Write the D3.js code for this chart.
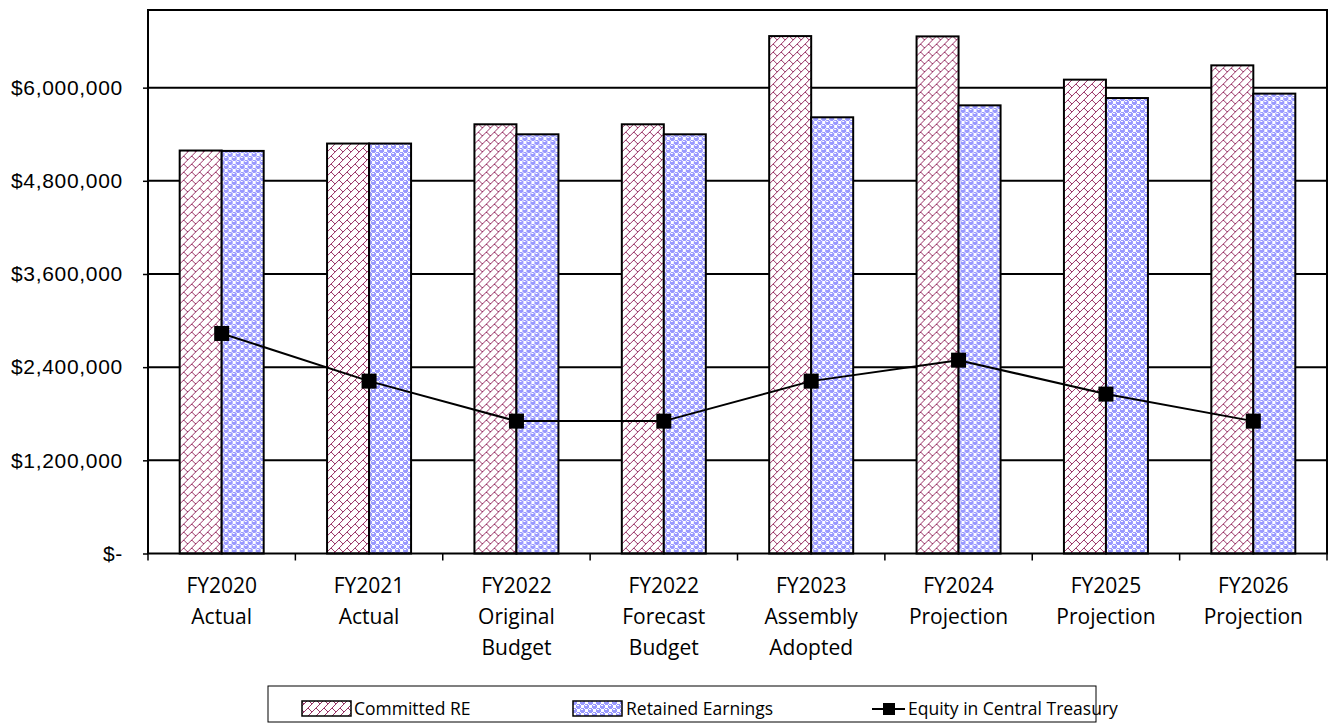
<!DOCTYPE html>
<html>
<head>
<meta charset="utf-8">
<script src="https://cdn.jsdelivr.net/npm/d3@7"></script>
<style>
  html, body { margin: 0; padding: 0; background: #fff; }
  svg { display: block; }
</style>
</head>
<body>
<svg id="chart" width="1330" height="725"></svg>
<script>
const categories = ["FY2020\nActual", "FY2021\nActual", "FY2022\nOriginal\nBudget", "FY2022\nForecast\nBudget", "FY2023\nAssembly\nAdopted", "FY2024\nProjection", "FY2025\nProjection", "FY2026\nProjection"];
const committedRE = [5190000, 5280000, 5528000, 5528000, 6664000, 6660000, 6103000, 6287000];
const retainedEarnings = [5185000, 5280000, 5399000, 5399000, 5618000, 5772000, 5866000, 5923000];
const equityCentralTreasury = [2834000, 2220000, 1705000, 1705000, 2220000, 2490000, 2053000, 1705000];
const yTicks = [0, 1200000, 2400000, 3600000, 4800000, 6000000];
const yMax = 7000000;
const seriesNames = ["Committed RE", "Retained Earnings", "Equity in Central Treasury"];

(function () {
const svg = d3.select("#chart");
const pL = 148, pR = 1327, pT = 10, pB = 553.5;

// patterns
const defs = svg.append("defs");
const brick = defs.append("pattern").attr("id", "brick").attr("patternUnits", "userSpaceOnUse")
  .attr("width", 8).attr("height", 8);
brick.append("rect").attr("width", 8).attr("height", 8).attr("fill", "#fff");
const brickBits = [
  "00000001",
  "00000010",
  "00000100",
  "00001000",
  "00011000",
  "00100100",
  "01000010",
  "10000001"
];
brickBits.forEach((row, r) => row.split("").forEach((b, c) => {
  if (b === "1") brick.append("rect").attr("x", c).attr("y", r).attr("width", 1).attr("height", 1).attr("fill", "#993366");
}));
const sphere = defs.append("pattern").attr("id", "sphere").attr("patternUnits", "userSpaceOnUse")
  .attr("width", 8).attr("height", 8);
sphere.append("rect").attr("width", 8).attr("height", 8).attr("fill", "#fff");
const sphereBits = [
  "0BBB0BBB",
  "BWWBB000",
  "BBBBB000",
  "BBBBB000",
  "0BBB0BBB",
  "B000BWWB",
  "B000BBBB",
  "B000BBBB"
];
sphereBits.forEach((row, r) => row.split("").forEach((b, c) => {
  if (b === "B") sphere.append("rect").attr("x", c).attr("y", r).attr("width", 1).attr("height", 1).attr("fill", "#9999FF");
}));

const x0 = d3.scaleBand().domain(categories).range([pL, pR]).paddingInner(0.43).paddingOuter(0.215);
const x1 = d3.scaleBand().domain(["c", "r"]).range([0, x0.bandwidth()]);
const y = d3.scaleLinear().domain([0, yMax]).range([pB, pT]);
const step = x0.step();

// gridlines
svg.append("g").selectAll("line").data(yTicks.filter(t => t > 0)).join("line")
  .attr("x1", pL).attr("x2", pR).attr("y1", d => y(d)).attr("y2", d => y(d))
  .attr("stroke", "#000").attr("stroke-width", 2);

// y axis
const yAxis = d3.axisLeft(y).tickValues(yTicks).tickSize(5).tickPadding(20)
  .tickFormat(d => d === 0 ? "$-" : "$" + d3.format(",")(d));
const ya = svg.append("g").attr("transform", `translate(${pL},0)`).call(yAxis);
ya.select(".domain").remove();
ya.selectAll(".tick line").attr("stroke", "#000").attr("stroke-width", 1.5);
ya.selectAll(".tick text").attr("font-family", "Liberation Sans, Arial, sans-serif").attr("font-size", 21)
  .attr("letter-spacing", 0.7).attr("fill", "#000");

// bars
const groups = svg.append("g").selectAll("g").data(categories).join("g")
  .attr("transform", d => `translate(${x0(d)},0)`);
groups.append("rect").attr("x", x1("c")).attr("width", x1.bandwidth())
  .attr("y", (d, i) => y(committedRE[i])).attr("height", (d, i) => pB - y(committedRE[i]))
  .attr("fill", "url(#brick)").attr("stroke", "#000").attr("stroke-width", 2);
groups.append("rect").attr("x", x1("r")).attr("width", x1.bandwidth())
  .attr("y", (d, i) => y(retainedEarnings[i])).attr("height", (d, i) => pB - y(retainedEarnings[i]))
  .attr("fill", "url(#sphere)").attr("stroke", "#000").attr("stroke-width", 2);

// line
const cx = d => x0(d) + x0.bandwidth() / 2;
const line = d3.line().x((d, i) => cx(categories[i])).y(d => y(d));
svg.append("path").datum(equityCentralTreasury).attr("d", line)
  .attr("fill", "none").attr("stroke", "#000").attr("stroke-width", 2);
svg.append("g").selectAll("rect").data(equityCentralTreasury).join("rect")
  .attr("x", (d, i) => cx(categories[i]) - 7.5).attr("y", d => y(d) - 7.5)
  .attr("width", 15).attr("height", 15).attr("fill", "#000");

// frame
svg.append("rect").attr("x", pL).attr("y", pT).attr("width", pR - pL).attr("height", pB - pT)
  .attr("fill", "none").attr("stroke", "#000").attr("stroke-width", 2);

// x ticks at boundaries
const bounds = d3.range(categories.length + 1).map(i => pL + i * step);
svg.append("g").selectAll("line").data(bounds).join("line")
  .attr("x1", d => d).attr("x2", d => d).attr("y1", pB).attr("y2", pB + 7)
  .attr("stroke", "#000").attr("stroke-width", 1.5);

// x labels
const xl = svg.append("g").selectAll("text").data(categories).join("text")
  .attr("x", d => cx(d)).attr("y", 593)
  .attr("text-anchor", "middle").attr("font-family", "Open Sans, sans-serif").attr("font-size", 21).attr("fill", "#000");
xl.each(function(d) {
  const t = d3.select(this);
  d.split("\n").forEach((s, i) => t.append("tspan").attr("x", cx(d)).attr("dy", i === 0 ? 0 : 31).text(s));
});

// legend
const lg = svg.append("g");
lg.append("rect").attr("x", 268).attr("y", 686).attr("width", 828).attr("height", 36)
  .attr("fill", "#fff").attr("stroke", "#000").attr("stroke-width", 1);
const ly = 709;
lg.append("rect").attr("x", 302).attr("y", 701).attr("width", 49).attr("height", 15)
  .attr("fill", "url(#brick)").attr("stroke", "#000").attr("stroke-width", 1.5);
lg.append("text").attr("x", 354).attr("y", 715).text(seriesNames[0]);
lg.append("rect").attr("x", 573).attr("y", 701).attr("width", 49).attr("height", 15)
  .attr("fill", "url(#sphere)").attr("stroke", "#000").attr("stroke-width", 1.5);
lg.append("text").attr("x", 626).attr("y", 715).text(seriesNames[1]);
lg.append("line").attr("x1", 872).attr("x2", 905).attr("y1", ly).attr("y2", ly).attr("stroke", "#000").attr("stroke-width", 2);
lg.append("rect").attr("x", 883).attr("y", ly - 6).attr("width", 12).attr("height", 12).attr("fill", "#000");
lg.append("text").attr("x", 908).attr("y", 715).text(seriesNames[2]);
lg.selectAll("text").attr("font-family", "Open Sans, sans-serif").attr("font-size", 17.5).attr("fill", "#000");
})();
</script>
</body>
</html>
